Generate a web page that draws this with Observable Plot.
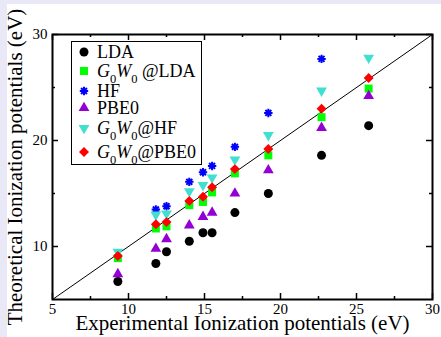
<!DOCTYPE html>
<html>
<head>
<meta charset="utf-8">
<script src="https://cdn.jsdelivr.net/npm/d3@7"></script>
<script src="https://cdn.jsdelivr.net/npm/@observablehq/plot@0.6"></script>
<style>
  html, body { margin: 0; padding: 0; }
  #wrap { position: relative; width: 441px; height: 337px; background: #e8e8f6; overflow: hidden; }
  #paper { position: absolute; left: 7px; top: 4px; right: 0; bottom: 0; background: #ffffff; }
  #chart { position: absolute; left: 0; top: 0; }
  #chart svg text { font-family: "Liberation Serif", "DejaVu Serif", serif; }
  #legend { position: absolute; left: 71px; top: 41px; width: 129px; height: 122px; border: 1.5px solid #000; background: #fff;
            font-family: "Liberation Serif", "DejaVu Serif", serif; font-size: 18px; color: #000; }
  .row { position: absolute; left: 0; height: 18px; line-height: 18px; white-space: nowrap; }
  .row svg { position: absolute; left: 3px; top: 0px; }
  .row span.lab { position: absolute; left: 25px; top: 0; }
  .row sub { font-size: 12.5px; vertical-align: -6px; line-height: 0; }
</style>
</head>
<body>
<div id="wrap">
  <div id="paper"></div>
  <div id="chart"></div>
  <div id="legend"></div>
</div>
<script>
// ---- data ----
const expIP    = [9.3, 11.8, 12.5, 14.0, 14.9, 15.5, 17.0, 19.2, 22.7, 25.8];
const lda      = [6.7, 8.4, 9.5, 10.5, 11.3, 11.3, 13.2, 15.0, 18.6, 21.4];
const g0w0LDA  = [8.9, 11.7, 11.9, 13.9, 14.2, 15.1, 16.9, 18.6, 22.2, 24.9];
const hf       = [null, 13.5, 13.8, 16.1, 17.0, 17.6, 19.4, 22.6, 27.7, null];
const pbe0     = [7.4, 9.8, 10.7, 12.0, 12.8, 13.2, 15.0, 17.2, 21.2, 24.2];
const g0w0HF   = [9.5, 13.0, 13.1, 15.2, 15.8, 16.5, 18.2, 20.5, 24.7, 27.8];
const g0w0PBE0 = [9.1, 12.1, 12.3, 14.3, 14.7, 15.6, 17.3, 19.2, 23.0, 25.9];

const xTickLabels = [5, 10, 15, 20, 25, 30];
const xMinor = [7.5, 12.5, 17.5, 22.5, 27.5];
const yTickLabels = [10, 20, 30];
const yMinor = [15, 25];
const diag = [5, 30];

const seriesNames = ["LDA", "G0W0 @LDA", "HF", "PBE0", "G0W0@HF", "G0W0@PBE0"];

// ---- custom symbols ----
const symTriDown = {
  draw(context, size) {
    const sqrt3 = Math.sqrt(3);
    const y = -Math.sqrt(size / (sqrt3 * 3));
    context.moveTo(0, -y * 2);
    context.lineTo(-sqrt3 * y, y);
    context.lineTo(sqrt3 * y, y);
    context.closePath();
  }
};
const symStar = {
  draw(context, size) {
    const r = Math.sqrt(size / Math.PI);
    for (let k = 0; k < 4; k++) {
      const a = k * Math.PI / 4;
      const c = Math.cos(a) * r, s = Math.sin(a) * r;
      context.moveTo(c, s);
      context.lineTo(-c, -s);
    }
  }
};

const W = 441, H = 337, mL = 52, mR = 9, mT = 34, mB = 38;
const fw = W - mL - mR, fh = H - mT - mB;
const major = 6, minor = 3;

const pts = vals => expIP.map((x, i) => ({x, y: vals[i]})).filter(d => d.y != null);

const styles = [
  {data: lda,      symbol: "circle",   fill: "#000000", r: 4.5},
  {data: g0w0LDA,  symbol: "square",   fill: "#00ff00", r: 4.5},
  {data: hf,       symbol: symStar,    stroke: "#0000ff", r: 4.2},
  {data: pbe0,     symbol: "triangle", fill: "#9400d3", r: 4},
  {data: g0w0HF,   symbol: symTriDown, fill: "#40e0d0", r: 4},
  {data: g0w0PBE0, symbol: "diamond2", fill: "#ff0000", r: 4.5}
];

const dotMarks = styles.map(s => s.stroke
  ? Plot.dot(pts(s.data), {x: "x", y: "y", symbol: s.symbol, r: s.r, stroke: s.stroke, fill: "none", strokeWidth: 2})
  : Plot.dot(pts(s.data), {x: "x", y: "y", symbol: s.symbol, r: s.r, fill: s.fill, stroke: "none"}));

const chart = Plot.plot({
  width: W, height: H,
  marginLeft: mL, marginRight: mR, marginTop: mT, marginBottom: mB,
  style: {fontFamily: "'Liberation Serif', 'DejaVu Serif', serif", fontSize: "15px", background: "transparent", color: "#000", overflow: "visible"},
  x: {domain: [5, 30]},
  y: {domain: [5, 30]},
  marks: [
    Plot.line(diag, {x: d => d, y: d => d, stroke: "#000", strokeWidth: 1}),
    // inner ticks
    Plot.tickX(xTickLabels, {x: d => d, insetTop: fh - major, stroke: "#000", strokeWidth: 1.5}),
    Plot.tickX(xMinor, {x: d => d, insetTop: fh - minor, stroke: "#000", strokeWidth: 1.5}),
    Plot.tickX(xTickLabels, {x: d => d, insetBottom: fh - major, stroke: "#000", strokeWidth: 1.5}),
    Plot.tickX(xMinor, {x: d => d, insetBottom: fh - minor, stroke: "#000", strokeWidth: 1.5}),
    Plot.tickY(yTickLabels, {y: d => d, insetRight: fw - major, stroke: "#000", strokeWidth: 1.5}),
    Plot.tickY(yMinor, {y: d => d, insetRight: fw - minor, stroke: "#000", strokeWidth: 1.5}),
    Plot.tickY(yTickLabels, {y: d => d, insetLeft: fw - major, stroke: "#000", strokeWidth: 1.5}),
    Plot.tickY(yMinor, {y: d => d, insetLeft: fw - minor, stroke: "#000", strokeWidth: 1.5}),
    Plot.axisX({ticks: xTickLabels, tickSize: 0, tickPadding: 4, label: null, tickFormat: d => String(d), fontSize: 15}),
    Plot.axisY({ticks: yTickLabels, tickSize: 0, tickPadding: 5, label: null, tickFormat: d => String(d), fontSize: 15}),
    ...dotMarks,
    Plot.frame({stroke: "#000", strokeWidth: 2}),
    Plot.text(["Experimental Ionization potentials (eV)"], {frameAnchor: "bottom", textAnchor: "middle", lineAnchor: "top", dy: 16, fontSize: 21}),
    Plot.text(["Theoretical Ionization potentials (eV)"], {frameAnchor: "left", textAnchor: "middle", lineAnchor: "top", rotate: -90, dx: -45, fontSize: 21})
  ]
});
document.getElementById("chart").appendChild(chart);

// ---- legend ----
const legendRowsCenters = [11, 30, 50, 67, 87, 111];
const legend = document.getElementById("legend");
const legendSym = [d3.symbolCircle, d3.symbolSquare, symStar, d3.symbolTriangle, symTriDown, d3.symbolDiamond2];
function labelHTML(name) {
  if (name.startsWith("G0W0")) {
    return '<i>G</i><sub>0</sub><i>W</i><sub>0</sub>' + name.slice(4);
  }
  return name;
}
seriesNames.forEach((name, i) => {
  const s = styles[i];
  const row = document.createElement("div");
  row.className = "row";
  row.style.top = (legendRowsCenters[i] - 1.5 - 9) + "px";
  const size = Math.PI * s.r * s.r;
  const path = d3.symbol(legendSym[i], size)();
  const svgNS = "http://www.w3.org/2000/svg";
  const svg = document.createElementNS(svgNS, "svg");
  svg.setAttribute("width", 18); svg.setAttribute("height", 18);
  const p = document.createElementNS(svgNS, "path");
  p.setAttribute("d", path);
  p.setAttribute("transform", "translate(9,9)");
  if (s.stroke) { p.setAttribute("stroke", s.stroke); p.setAttribute("fill", "none"); p.setAttribute("stroke-width", 2); }
  else { p.setAttribute("fill", s.fill); }
  svg.appendChild(p);
  row.appendChild(svg);
  const lab = document.createElement("span");
  lab.className = "lab";
  lab.innerHTML = labelHTML(name);
  row.appendChild(lab);
  legend.appendChild(row);
});
</script>
</body>
</html>
